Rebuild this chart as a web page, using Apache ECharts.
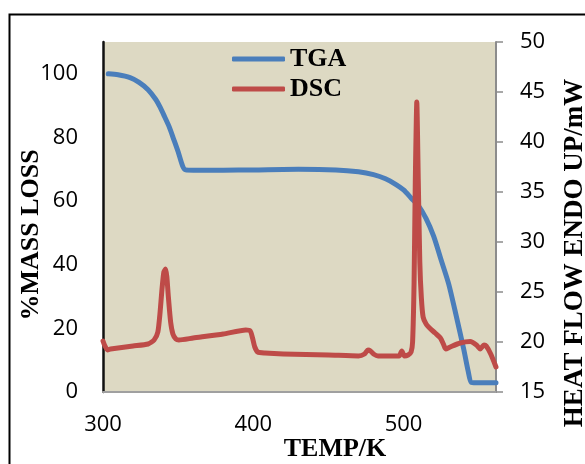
<!DOCTYPE html>
<html>
<head>
<meta charset="utf-8">
<script src="https://cdn.jsdelivr.net/npm/echarts@6/dist/echarts.min.js"></script>
<style>
html,body{margin:0;padding:0;background:#fff;}
#chart{width:585px;height:464px;}
</style>
</head>
<body>
<div id="chart"></div>
<script>
// ---- data ----
const xTicks = [300, 400, 500];
const massTicks = [0, 20, 40, 60, 80, 100];
const heatTicks = [15, 20, 25, 30, 35, 40, 45, 50];

const tgaTemp = [303.5, 310, 318, 324, 330, 335, 338, 341, 344, 347, 350, 353, 355, 360, 380, 400, 430, 455, 470, 480, 488, 495, 500, 505, 510, 515, 520, 525, 530, 535, 540, 543, 545, 548, 561.5];
const tgaMass = [100, 99.7, 98.8, 97.3, 95, 92, 89.5, 86.5, 83.4, 79.5, 75.5, 71, 69.8, 69.7, 69.7, 69.8, 70, 69.8, 69.2, 68.3, 67, 65.2, 63.5, 61, 58.5, 54.5, 49, 41.5, 34, 24, 13.5, 6.5, 3, 2.9, 2.9];

const dscTemp = [300, 301, 303, 305, 310, 320, 330, 334, 336.5, 338, 339.2, 340.5, 341.7, 342.5, 343.5, 345, 346.5, 348.5, 350.5, 360, 380, 395, 398, 399.5, 401, 403, 407.7, 420, 450, 470, 474, 476.3, 478, 480, 483, 490, 497, 498.8, 500.5, 503, 505, 506, 507, 507.8, 508.8, 509.8, 510.8, 511.8, 513, 515, 518, 521, 524.5, 526.5, 528, 531, 537.7, 544.4, 548.5, 551, 553.5, 555, 558, 561.5];
const dscHeat = [20.1, 19.7, 19.2, 19.3, 19.4, 19.6, 19.8, 20.2, 21, 23, 25.2, 27, 27.3, 26.5, 24.5, 22, 20.8, 20.3, 20.2, 20.4, 20.8, 21.2, 21.1, 20.4, 19.5, 19.0, 18.9, 18.8, 18.7, 18.6, 18.8, 19.2, 19.1, 18.8, 18.6, 18.6, 18.6, 19.1, 18.6, 18.7, 19.0, 20, 26, 36, 44, 36, 28, 24.5, 22.5, 21.8, 21.3, 20.9, 20.4, 19.8, 19.3, 19.5, 19.9, 20.05, 19.7, 19.3, 19.7, 19.6, 18.8, 17.5];

const seriesNames = ['TGA', 'DSC'];
const axisTitles = {x: 'TEMP/K', left: '%MASS LOSS', right: 'HEAT FLOW ENDO UP/mW'};

// ---- chart ----
const chart = echarts.init(document.getElementById('chart'), null, {renderer: 'canvas'});
const tickFont = {fontFamily: 'Open Sans', fontSize: 22, color: '#000'};
const titleFont = 'bold 26px "Liberation Serif"';

const option = {
  animation: false,
  backgroundColor: '#fff',
  grid: {left: 103, right: 89, top: 42, bottom: 72, show: true, backgroundColor: '#DDD9C3', borderWidth: 0},
  legend: {
    orient: 'vertical', left: 232, top: 46, padding: 0,
    itemWidth: 53, itemHeight: 5, itemGap: 4, icon: 'roundRect',
    itemStyle: {borderWidth: 0},
    data: seriesNames,
    textStyle: {fontFamily: 'Liberation Serif', fontWeight: 'bold', fontSize: 26, color: '#000', lineHeight: 26}
  },
  xAxis: {
    type: 'value', min: 300, max: 561.5, interval: 100,
    axisLine: {show: true, lineStyle: {color: '#a0a0a0', width: 2}},
    axisTick: {show: false},
    splitLine: {show: false},
    axisLabel: Object.assign({margin: 22, showMaxLabel: false,
      formatter: v => xTicks.includes(v) ? String(v) : ''}, tickFont)
  },
  yAxis: [
    {
      type: 'value', min: 0, max: 110, interval: 20, position: 'left',
      axisLine: {show: true, lineStyle: {color: '#111', width: 2.5}},
      axisTick: {show: false},
      splitLine: {show: false},
      axisLabel: Object.assign({margin: 25, showMaxLabel: false,
        formatter: v => massTicks.includes(v) ? String(v) : ''}, tickFont)
    },
    {
      type: 'value', min: 15, max: 50, interval: 5, position: 'right',
      axisLine: {show: true, lineStyle: {color: '#8c8c8c', width: 2}},
      axisTick: {show: true, inside: false, length: 7, lineStyle: {color: '#8c8c8c', width: 1.5}},
      splitLine: {show: false},
      axisLabel: Object.assign({margin: 24,
        formatter: v => heatTicks.includes(v) ? String(v) : ''}, tickFont)
    }
  ],
  series: [
    {
      name: seriesNames[0], type: 'line', yAxisIndex: 0, symbol: 'none', smooth: 0.25,
      data: tgaTemp.map((t, i) => [t, tgaMass[i]]),
      lineStyle: {color: '#4A7EBB', width: 5, cap: 'round', join: 'round'},
      itemStyle: {color: '#4A7EBB'}
    },
    {
      name: seriesNames[1], type: 'line', yAxisIndex: 1, symbol: 'none', smooth: 0.2,
      data: dscTemp.map((t, i) => [t, dscHeat[i]]),
      lineStyle: {color: '#BE4B48', width: 5, cap: 'round', join: 'round'},
      itemStyle: {color: '#BE4B48'}
    }
  ],
  graphic: [
    {type: 'rect', left: 7, top: 12, shape: {x: 0, y: 0, width: 640, height: 520}, z: -10, silent: true,
     style: {fill: 'none', stroke: '#000', lineWidth: 2}},
    {type: 'text', x: 335, y: 449, style: {text: axisTitles.x, font: titleFont, fill: '#000', align: 'center', verticalAlign: 'middle'}},
    {type: 'text', x: 31, y: 235, rotation: Math.PI / 2, style: {text: axisTitles.left, font: titleFont, fill: '#000', align: 'center', verticalAlign: 'middle'}},
    {type: 'text', x: 575, y: 253, rotation: Math.PI / 2, style: {text: axisTitles.right, font: 'bold 27px "Liberation Serif"', fill: '#000', align: 'center', verticalAlign: 'middle'}}
  ]
};
chart.setOption(option);
</script>
</body>
</html>
